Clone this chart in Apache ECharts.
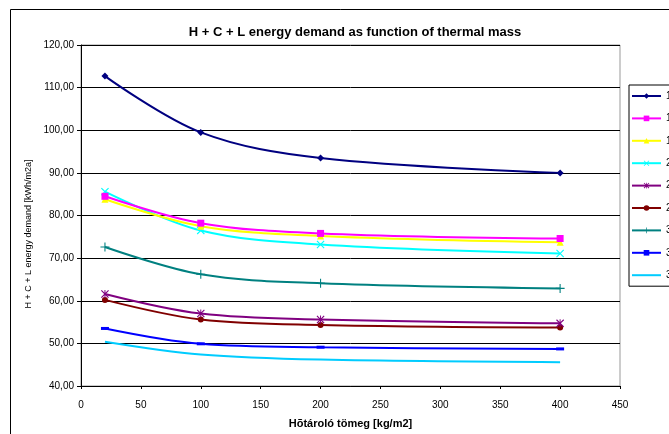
<!DOCTYPE html>
<html>
<head>
<meta charset="utf-8">
<script src="https://cdn.jsdelivr.net/npm/echarts@6/dist/echarts.min.js"></script>
<style>
  html, body { margin: 0; padding: 0; background: #fff; }
  #main { width: 669px; height: 434px; }
</style>
</head>
<body>
<div id="main"></div>
<script>
// thermal mass values [kg/m2]
const masses = [20, 100, 200, 400]

const seriesNames = ['1a', '1b', '1c', '2a', '2b', '2c', '3a', '3b', '3c']

const s1 = [112.7, 99.5, 93.5, 90.0]
const s2 = [84.5, 78.2, 75.8, 74.6]
const s3 = [83.8, 77.5, 75.2, 73.7]
const s4 = [85.6, 76.5, 73.2, 71.1]
const s5 = [61.6, 57.0, 55.6, 54.7]
const s6 = [60.2, 55.6, 54.3, 53.7]
const s7 = [72.6, 66.2, 64.1, 62.9]
const s8 = [53.5, 49.9, 49.1, 48.7]
const s9 = [50.4, 47.4, 46.2, 45.6]

const colors = ['#000080', '#ff00ff', '#ffff00', '#00ffff', '#800080',
    '#800000', '#008080', '#0000ff', '#00ccff']

const xMark = 'path://M0,1L1,0L5,4L9,0L10,1L6,5L10,9L9,10L5,6L1,10L0,9L4,5Z'
const starMark = 'path://M0,1L1,0L5,4L9,0L10,1L6,5L10,9L9,10L5,6L1,10L0,9L4,5Z M4.4,0H5.6V10H4.4Z'
const plusMark = 'path://M4.4,0H5.6V4.4H10V5.6H5.6V10H4.4V5.6H0V4.4H4.4Z'
const dashMark = 'path://M0,0H10V3H0Z'

const symbols = ['diamond', 'rect', 'triangle', xMark, starMark, 'circle', plusMark, dashMark, 'none']
const sizes = [7, 7, 7, 8, 8, 6, 9, [8, 3], 0]
const values = [s1, s2, s3, s4, s5, s6, s7, s8, s9]

const chart = echarts.init(document.getElementById('main'))

let series = []
for (let i = 0; i < values.length; i++) {
    series.push({
        name: seriesNames[i],
        type: 'line',
        smooth: 0.35,
        data: masses.map((m, j) => [m, values[i][j]]),
        symbol: symbols[i],
        symbolSize: sizes[i],
        showSymbol: symbols[i] !== 'none',
        itemStyle: { color: colors[i] },
        lineStyle: { color: colors[i], width: 2 },
        z: 10 - i
    })
}

// last entry has no marker, hide its legend symbol
let legendData = seriesNames.map(n => ({ name: n }))
legendData[8].itemStyle = { opacity: 0 }

chart.setOption({
    animation: false,
    backgroundColor: '#fff',
    textStyle: { fontFamily: 'Liberation Sans, Arial, sans-serif' },
    title: {
        text: 'H + C + L energy demand as function of thermal mass',
        left: 350,
        textAlign: 'center',
        top: 21,
        textStyle: { fontSize: 13, fontWeight: 'bold', color: '#000' }
    },
    graphic: [{
        type: 'rect',
        shape: { x: 10.5, y: 9.5, width: 700, height: 500 },
        style: { fill: 'none', stroke: '#000', lineWidth: 1 },
        silent: true
    }, {
        type: 'text',
        x: 29,
        y: 234,
        rotation: Math.PI / 2,
        style: {
            text: 'H + C + L energy demand [kWh/m2a]',
            fontSize: 9,
            fontFamily: 'Liberation Sans, Arial, sans-serif',
            fill: '#000',
            align: 'center',
            verticalAlign: 'middle'
        },
        silent: true
    }],
    legend: {
        orient: 'vertical',
        left: 629,
        top: 85,
        padding: [5, 30, 5, 2],
        itemWidth: 29,
        itemHeight: 7,
        itemGap: 10.4,
        borderColor: '#000',
        borderWidth: 1,
        textStyle: { fontSize: 10, lineHeight: 12, color: '#000' },
        data: legendData
    },
    grid: {
        left: 81,
        top: 45,
        right: 49,
        bottom: 47,
        show: true,
        borderColor: '#999',
        borderWidth: 1
    },
    xAxis: {
        type: 'value',
        min: 0,
        max: 450,
        interval: 50,
        name: 'Hõtároló tömeg [kg/m2]',
        nameLocation: 'middle',
        nameGap: 32,
        nameTextStyle: { fontSize: 11, fontWeight: 'bold', color: '#000' },
        axisLine: { lineStyle: { color: '#000' } },
        axisTick: { show: true, length: 3, lineStyle: { color: '#000' } },
        axisLabel: { fontSize: 10, color: '#000', margin: 14 },
        splitLine: { show: false }
    },
    yAxis: {
        type: 'value',
        min: 40,
        max: 120,
        interval: 10,
        axisLine: { show: true, lineStyle: { color: '#000' } },
        axisTick: { show: true, length: 4, lineStyle: { color: '#000' } },
        axisLabel: {
            fontSize: 10,
            color: '#000',
            margin: 7,
            formatter: v => v.toFixed(2).replace('.', ',')
        },
        splitLine: { show: true, lineStyle: { color: '#000', width: 1 } }
    },
    series: series
})
</script>
</body>
</html>
